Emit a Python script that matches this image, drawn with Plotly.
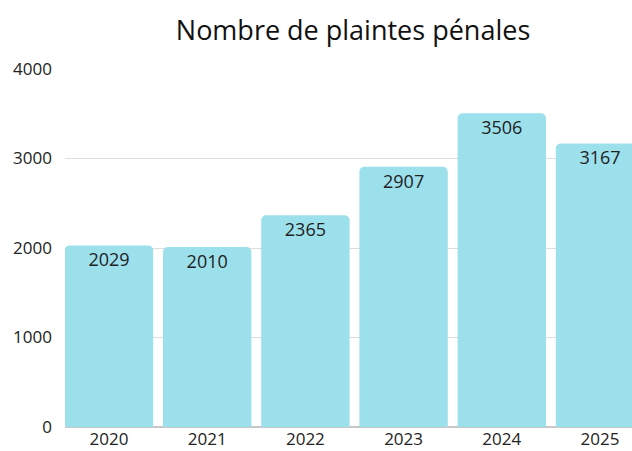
import plotly.graph_objects as go

years = ["2020", "2021", "2022", "2023", "2024", "2025"]
plaintes = [2029, 2010, 2365, 2907, 3506, 3167]
y_ticks = [0, 1000, 2000, 3000, 4000]

fig = go.Figure()
fig.add_trace(go.Bar(
    x=years, y=plaintes,
    marker=dict(color="#9ce0ec", cornerradius=5, line=dict(width=0)),
    hoverinfo="skip",
))
fig.add_trace(go.Scatter(
    x=years, y=plaintes, mode="markers+text",
    marker=dict(size=10, color="rgba(0,0,0,0)"),
    text=[str(v) for v in plaintes], textposition="bottom center",
    textfont=dict(family="Open Sans", size=18, color="#222222"),
    cliponaxis=False, hoverinfo="skip",
))

fig.update_layout(
    width=632, height=451,
    margin=dict(l=65, r=0, t=69, b=24),
    paper_bgcolor="white", plot_bgcolor="white",
    font=dict(family="Open Sans", size=18, color="#222222"),
    bargap=0.1,
    showlegend=False,
    title=dict(text="Nombre de plaintes pénales", x=0.508, xanchor="center",
               xref="paper", y=0.933, yanchor="middle",
               font=dict(family="Open Sans", size=27, color="#111111")),
)
fig.update_xaxes(type="category", range=[-0.448, 5.326], showgrid=False,
                 automargin=False, ticks="", tickfont=dict(size=17))
fig.update_yaxes(range=[0, 4000], tickvals=y_ticks, showgrid=True,
                 gridcolor="#dddddd", gridwidth=1, zeroline=True,
                 zerolinecolor="#c8c8c8", zerolinewidth=2, automargin=False,
                 ticklabelstandoff=12, tickfont=dict(size=17))

fig.write_html("out.html", config={"displayModeBar": False},
               post_script="document.body.style.margin='0';")
